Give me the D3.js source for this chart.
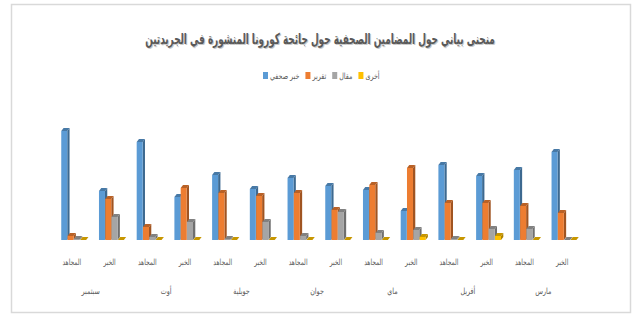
<!DOCTYPE html>
<html>
<head>
<meta charset="utf-8">
<script src="https://cdn.jsdelivr.net/npm/d3@7"></script>
<style>
  body { margin: 0; background: #fff; }
  svg { display: block; }
  text { font-family: "DejaVu Sans", sans-serif; fill: #595959; }
</style>
</head>
<body>
<svg id="chart" width="640" height="321"></svg>
<script>
// chart data (chronological order: مارس الخبر, مارس المجاهد, أفريل الخبر ...)
const chartTitle = "منحنى بياني حول المضامين الصحفية حول جائحة كورونا المنشورة في الجريدتين";
const seriesNames = ["خبر صحفي", "تقرير", "مقال", "أخرى"];
const months = ["مارس", "أفريل", "ماي", "جوان", "جويلية", "أوت", "سبتمبر"];
const papers = ["الخبر", "المجاهد"];
const newsValues    = [88, 70, 64, 75, 29, 50, 54, 62, 51, 65, 43, 98, 49, 109];
const reportValues  = [27, 34, 37, 37, 72, 55, 30, 47, 44, 47, 52, 13, 41, 4];
const articleValues = [0, 11, 11, 1, 10, 7, 28, 4, 18, 1, 18, 3, 23, 1];
const otherValues   = [0, 0, 4, 0, 3, 0, 0, 0, 0, 0, 0, 0, 0, 0];

const colors = ["#5b9bd5", "#ed7d31", "#a5a5a5", "#ffc000"];

// build category list from months x papers
const categories = [];
months.forEach(m => papers.forEach(p => categories.push({ month: m, paper: p })));
const seriesValues = [newsValues, reportValues, articleValues, otherValues];

const svg = d3.select("#chart");

// text drawn narrower than DejaVu (Excel's Arabic font is condensed)
function narrowText(parent, str, cx, cy, size, ratio, anchor) {
  const g = parent.append("g")
    .attr("transform", `translate(${cx},${cy}) scale(${ratio},1)`);
  const t = g.append("text")
    .attr("x", 0).attr("y", 0)
    .attr("text-anchor", anchor || "middle")
    .attr("font-size", size)
    .text(str);
  return t;
}

// outer border
svg.append("rect")
  .attr("x", 11.5).attr("y", 4.5)
  .attr("width", 619).attr("height", 308)
  .attr("fill", "#fff")
  .attr("stroke", "#d9d9d9")
  .attr("stroke-width", 1.5);

// title (with a soft shadow copy), scaled to about 350px wide
const probe = svg.append("text").attr("font-size", 15).attr("font-weight", "bold").text(chartTitle);
const titleRatio = 350 / probe.node().getComputedTextLength();
probe.remove();
[[321, 45, "#c8c8c8"], [320, 44, "#595959"]].forEach(([tx, ty, fill]) => {
  narrowText(svg, chartTitle, tx, ty, 15, titleRatio)
    .attr("font-weight", "bold")
    .style("fill", fill);
});

// scales
const baseY = 240;
const x = d3.scaleBand()
  .domain(d3.range(categories.length))
  .range([581, 53]); // reversed: first month on the right

const y = d3.scaleLinear()
  .domain([0, 110])
  .range([baseY, baseY - 110]);

const pitch = 6.3;
const xs = d3.scaleBand()
  .domain(d3.range(seriesNames.length))
  .range([0, pitch * seriesNames.length]);

const barW = 6;
const dx = 2.3, dy = 3;

const plot = svg.append("g");

categories.forEach((c, i) => {
  const gx = x(i) + x.bandwidth() / 2 - xs.range()[1] / 2 + 2;
  seriesValues.forEach((vals, s) => {
    const v = vals[i];
    const x0 = gx + xs(s);
    const y0 = y(v);
    const col = d3.color(colors[s]);
    const g = plot.append("g");
    // right side face
    g.append("polygon")
      .attr("points", [[x0 + barW, y0], [x0 + barW + dx, y0 - dy], [x0 + barW + dx, baseY - dy], [x0 + barW, baseY]].join(" "))
      .attr("fill", col.darker(1.1));
    // front face
    g.append("rect")
      .attr("x", x0).attr("y", y0)
      .attr("width", barW).attr("height", baseY - y0)
      .attr("fill", colors[s]);
    // top face
    g.append("polygon")
      .attr("points", [[x0, y0], [x0 + dx, y0 - dy], [x0 + barW + dx, y0 - dy], [x0 + barW, y0]].join(" "))
      .attr("fill", col.darker(0.7));
  });
});

// category labels (paper names)
const catG = svg.append("g");
categories.forEach((d, i) => {
  narrowText(catG, d.paper, x(i) + x.bandwidth() / 2, 265, 8.5, 0.7);
});

// month labels centred under each pair
const monthG = svg.append("g");
months.forEach((m, k) => {
  const cx = (x(k * 2) + x(k * 2 + 1)) / 2 + x.bandwidth() / 2;
  narrowText(monthG, m, cx, 294, 8.5, 0.75);
});

// legend
const legend = svg.append("g");
let lx = 263;
seriesNames.forEach((name, s) => {
  legend.append("rect")
    .attr("x", lx).attr("y", 72)
    .attr("width", 5).attr("height", 7)
    .attr("fill", colors[s]);
  const t = narrowText(legend, name, lx + 7, 79, 8.5, 0.75, "start");
  lx += 7 + t.node().getComputedTextLength() * 0.75 + 6;
});
</script>
</body>
</html>
